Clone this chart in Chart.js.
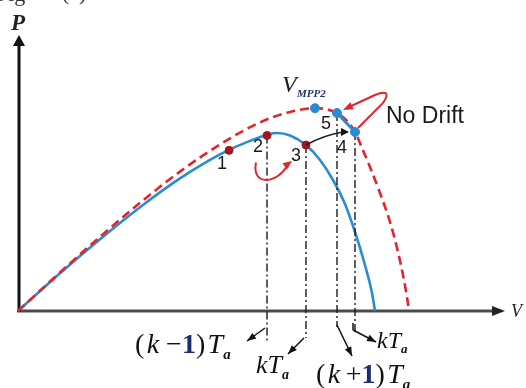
<!DOCTYPE html>
<html>
<head>
<meta charset="utf-8">
<script src="https://cdn.jsdelivr.net/npm/chart.js@4"></script>
<style>
 html, body { margin: 0; padding: 0; background: #fff; }
 canvas { display: block; }
</style>
</head>
<body>
<canvas id="pv" width="526" height="388"></canvas>
<script>
// P-V curves (arbitrary units, V and P both on 0..100)
const voltageLow = [0, 8.68, 16.94, 25.21, 33.47, 41.74, 47.93, 53.51, 56.2, 59.5, 62.4, 65.08, 67.56, 69.63, 71.69, 73.14, 73.76];
const powerLow = [0, 13.7, 26.01, 37.61, 48.04, 56.74, 61.63, 64.5, 63.6, 60.14, 54.71, 47.46, 38.77, 28.62, 16.67, 6.52, 0];

const voltageHigh = [0, 8.68, 16.94, 25.21, 33.47, 41.74, 50.0, 56.2, 61.36, 63.43, 65.91, 67.98, 69.63, 71.07, 72.73, 74.79, 76.86, 78.51, 79.75, 80.37, 80.79];
const powerHigh = [0, 13.99, 26.88, 39.2, 50.51, 60.36, 68.33, 72.14, 73.48, 73.19, 71.74, 68.84, 64.86, 59.06, 52.17, 42.75, 32.25, 21.38, 11.23, 5.07, 0];

// operating points of the tracker
const stepLabels = ["1", "2", "3", "4", "5"];
const stepV = [43.6, 51.45, 59.5, 69.63, 65.91];
const stepP = [58.2, 63.6, 60.14, 64.86, 71.74];

const mppV = [61.36];
const mppP = [73.48];

// sampling instants marked under the axis (for steps 2, 3, 5, 4)
const sampleSteps = ["2", "3", "5", "4"];
const sampleLabels = ["(k−1)T_a", "kT_a", "(k+1)T_a", "kT_a"];

const SERIF = '"Liberation Serif", "DejaVu Serif", serif';
const SANS = '"Liberation Sans", Arial, sans-serif';
const BLUE = "#2b8bd2";
const RED = "#e3242b";
const DARK_RED = "#a3161b";

const pts = (xs, ys) => xs.map((x, i) => ({ x, y: ys[i] }));
const stepIdx = (lbl) => stepLabels.indexOf(lbl);

// vertical dash-dot guides, broken with null gaps
const guideDrop = [-11.5, -9.8, -5.8, -8];
const guideData = [];
sampleSteps.forEach((s, i) => {
 const k = stepIdx(s);
 guideData.push({ x: stepV[k], y: stepP[k] }, { x: stepV[k], y: guideDrop[i] }, { x: stepV[k], y: null });
});

function drawRich(ctx, x, y, parts) {
 let cx = x;
 parts.forEach(([text, font, dy = 0, color = "#111"]) => {
  ctx.font = font;
  ctx.fillStyle = color;
  ctx.fillText(text, cx, y + dy);
  cx += ctx.measureText(text).width;
 });
}

function richParts(label, size) {
 // "(k−1)T_a" style: k, T, a italic; digits bold
 const out = [];
 const [main, sub] = label.split("_");
 for (const ch of main) {
  if (ch === "k" || ch === "T") out.push([ch, `italic ${size}px ${SERIF}`]);
  else if (ch === "1") out.push([ch, `bold ${size}px ${SERIF}`, 0, "#1b2d6b"]);
  else if (ch === "−") out.push([" " + ch, `${size}px ${SERIF}`]);
  else if (ch === "+") out.push(["\u2009" + ch, `${size}px ${SERIF}`]);
  else out.push([ch, `${size}px ${SERIF}`]);
  if (ch === "(" || ch === ")") out.push(["\u200a", `${size}px ${SERIF}`]);
 }
 out.push([sub, `italic bold ${Math.round(size * 0.55)}px ${SERIF}`, Math.round(size * 0.22)]);
 return out;
}

function arrowHead(ctx, fx, fy, tx, ty, len, wid, color) {
 const a = Math.atan2(ty - fy, tx - fx);
 ctx.save();
 ctx.fillStyle = color;
 ctx.translate(tx, ty);
 ctx.rotate(a);
 ctx.beginPath();
 ctx.moveTo(0, 0);
 ctx.lineTo(-len, -wid / 2);
 ctx.lineTo(-len, wid / 2);
 ctx.closePath();
 ctx.fill();
 ctx.restore();
}

function arrow(ctx, fx, fy, tx, ty, color, lw, len, wid) {
 ctx.save();
 ctx.strokeStyle = color;
 ctx.lineWidth = lw;
 ctx.beginPath();
 ctx.moveTo(fx, fy);
 ctx.lineTo(tx, ty);
 ctx.stroke();
 ctx.restore();
 arrowHead(ctx, fx, fy, tx, ty, len, wid, color);
}

const axesPlugin = {
 id: "pvAxes",
 beforeDatasetsDraw(chart) {
  const { ctx, chartArea: a } = chart;
  ctx.save();
  // horizontal V axis
  ctx.strokeStyle = "#4a4a4a";
  ctx.lineWidth = 3;
  ctx.beginPath();
  ctx.moveTo(a.left - 1, a.bottom);
  ctx.lineTo(a.right - 8, a.bottom);
  ctx.stroke();
  arrowHead(ctx, a.left, a.bottom, a.right + 3, a.bottom, 13, 10, "#222");
  // vertical P axis
  ctx.strokeStyle = "#111";
  ctx.beginPath();
  ctx.moveTo(a.left + 1, a.bottom + 1);
  ctx.lineTo(a.left + 1, a.top + 8);
  ctx.stroke();
  arrowHead(ctx, a.left + 1, a.bottom, a.left + 1, a.top, 11, 12, "#111");

  ctx.textBaseline = "alphabetic";
  ctx.fillStyle = "#222";
  ctx.font = `bold italic 23px ${SERIF}`;
  ctx.fillText("P", a.left - 7, a.top - 5);
  ctx.font = `italic 18px ${SERIF}`;
  ctx.fillText("V", a.right + 9, a.bottom + 6);

  // caption cut off at the top edge
  ctx.font = `22px ${SERIF}`;
  ctx.fillStyle = "#333";
  ctx.fillText("Fig", -4, 1);
  ctx.fillText("(a)", 62, 0);
  ctx.restore();
 },
};

const notesPlugin = {
 id: "pvNotes",
 afterDatasetsDraw(chart) {
  const { ctx, chartArea: a, scales } = chart;
  const px = (v) => scales.x.getPixelForValue(v);
  const py = (p) => scales.y.getPixelForValue(p);
  const at = (lbl) => {
   const k = stepIdx(lbl);
   return [px(stepV[k]), py(stepP[k])];
  };
  ctx.save();

  // step numbers
  const numOffset = { 1: [-7, 14], 2: [-9, 12], 3: [-10, 11], 4: [-13, 16], 5: [-11, 11] };
  ctx.font = `18px ${SANS}`;
  ctx.fillStyle = "#1a1a1a";
  ctx.textAlign = "center";
  ctx.textBaseline = "middle";
  stepLabels.forEach((s) => {
   const [x, y] = at(s);
   ctx.fillText(s, x + numOffset[s][0], y + numOffset[s][1]);
  });
  ctx.textAlign = "left";
  ctx.textBaseline = "alphabetic";

  // V_MPP2
  const mx = px(mppV[0]);
  const my = py(mppP[0]);
  ctx.font = `italic 24px ${SERIF}`;
  ctx.fillStyle = "#1a1a1a";
  ctx.fillText("V", mx - 33, my - 16);
  ctx.font = `italic bold 11px ${SERIF}`;
  ctx.fillStyle = "#1f336f";
  ctx.fillText("MPP2", mx - 18, my - 11);

  const [x2, y2] = at("2");
  const [x3, y3] = at("3");
  const [x4, y4] = at("4");
  const [x5, y5] = at("5");

  // black step arrow 3 -> 4
  ctx.strokeStyle = "#222";
  ctx.lineWidth = 1.5;
  ctx.beginPath();
  ctx.moveTo(x3, y3);
  ctx.quadraticCurveTo(x3 + 18, y3 - 10, x4 - 12, y4);
  ctx.stroke();
  arrowHead(ctx, x3 + 18, y4, x4 - 6, y4, 8, 8, "#111");

  // red loop 2 -> 3
  ctx.strokeStyle = RED;
  ctx.lineWidth = 2;
  ctx.beginPath();
  ctx.moveTo(x2 - 11, y2 + 27);
  ctx.bezierCurveTo(x2 - 16, y2 + 52, x2 + 12, y2 + 48, x3 - 18, y3 + 19);
  ctx.stroke();
  arrowHead(ctx, x3 - 26, y3 + 25, x3 - 14, y3 + 16, 9, 8, RED);

  // red "No Drift" loop 4 -> 5
  ctx.beginPath();
  ctx.moveTo(x4 + 3, y4 - 4);
  ctx.lineTo(x4 + 28, y4 - 29);
  ctx.quadraticCurveTo(x4 + 38, y4 - 44, x4 + 20, y4 - 37);
  ctx.lineTo(x5 + 12, y5 - 6);
  ctx.stroke();
  arrowHead(ctx, x4 + 20, y4 - 37, x5 + 6, y5 - 3, 10, 8, RED);

  ctx.font = `23px ${SANS}`;
  ctx.fillStyle = "#1a1a1a";
  ctx.fillText("No Drift", x4 + 31, y4 - 9);

  // sampling-instant arrows and labels under the axis
  const b = a.bottom;
  ctx.strokeStyle = "#111";
  ctx.lineWidth = 1.5;
  arrow(ctx, x2 - 2, b + 17, x2 - 20, b + 30, "#111", 1.5, 9, 7);
  arrow(ctx, x3 - 2, b + 27, x3 - 18, b + 43, "#111", 1.5, 9, 7);
  arrow(ctx, x5, b + 14, x5 + 15, b + 45, "#111", 1.5, 9, 7);
  ctx.beginPath();
  ctx.moveTo(x4 - 2, b + 12);
  ctx.lineTo(x4 - 2, b + 19);
  ctx.stroke();
  arrow(ctx, x4 - 2, b + 19, x4 + 21, b + 31, "#111", 1.5, 9, 7);

  const placeX = [x2 - 132, x3 - 50, x5 - 21, x4 + 22];
  const placeY = [b + 42, b + 62, b + 72, b + 37];
  const sizes = [28, 26, 28, 24];
  sampleLabels.forEach((lbl, i) => {
   drawRich(ctx, placeX[i], placeY[i], richParts(lbl, sizes[i]));
  });

  ctx.restore();
 },
};

new Chart(document.getElementById("pv"), {
 type: "scatter",
 data: {
  datasets: [
   {
    label: "steps",
    data: pts(stepV.slice(0, 3), stepP.slice(0, 3)),
    backgroundColor: DARK_RED,
    borderColor: DARK_RED,
    pointRadius: 4,
   },
   {
    label: "mpp",
    data: pts(mppV.concat(stepV.slice(4, 5), stepV.slice(3, 4)), mppP.concat(stepP.slice(4, 5), stepP.slice(3, 4))),
    backgroundColor: BLUE,
    borderColor: BLUE,
    pointRadius: 4.5,
   },
   {
    label: "drift-free step",
    data: pts([stepV[4], stepV[3]], [stepP[4], stepP[3]]),
    showLine: true,
    borderColor: BLUE,
    borderWidth: 3,
    pointRadius: 0,
   },
   {
    label: "guides",
    data: guideData,
    showLine: true,
    spanGaps: false,
    borderColor: "#1a1a1a",
    borderWidth: 1.4,
    borderDash: [8, 3, 2, 3],
    pointRadius: 0,
    clip: false,
   },
   {
    label: "P-V high",
    data: pts(voltageHigh, powerHigh),
    showLine: true,
    borderColor: RED,
    borderWidth: 2.6,
    borderDash: [9, 5],
    cubicInterpolationMode: "monotone",
    pointRadius: 0,
    clip: false,
   },
   {
    label: "P-V low",
    data: pts(voltageLow, powerLow),
    showLine: true,
    borderColor: BLUE,
    borderWidth: 2.6,
    cubicInterpolationMode: "monotone",
    pointRadius: 0,
    clip: false,
   },
  ],
 },
 options: {
  responsive: false,
  animation: false,
  devicePixelRatio: 1,
  layout: { padding: { left: 18, top: 35, right: 24, bottom: 77 } },
  plugins: { legend: { display: false }, tooltip: { enabled: false } },
  scales: {
   x: { type: "linear", min: 0, max: 100, display: false },
   y: { type: "linear", min: 0, max: 100, display: false },
  },
 },
 plugins: [axesPlugin, notesPlugin],
});
</script>
</body>
</html>
